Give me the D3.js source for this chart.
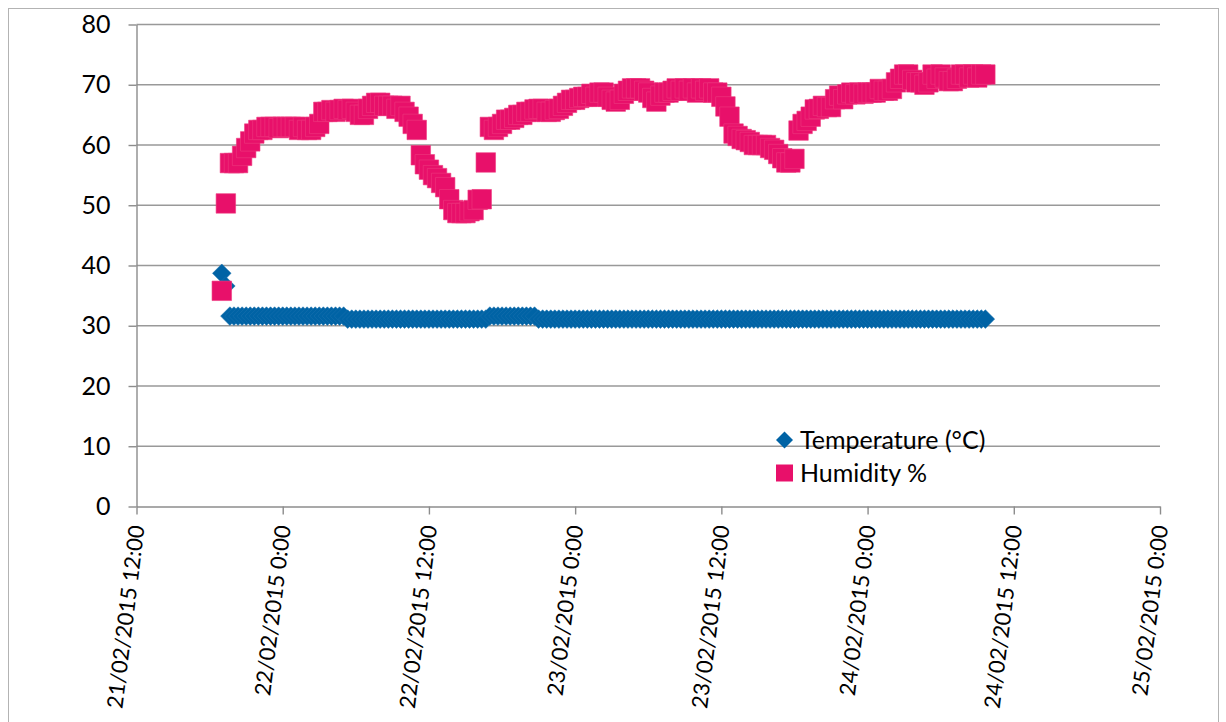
<!DOCTYPE html>
<html>
<head>
<meta charset="utf-8">
<script src="https://cdn.jsdelivr.net/npm/d3@7"></script>
<style>
  html, body { margin: 0; background: #ffffff; }
  svg { display: block; }
  text { font-family: Lato, "Open Sans", sans-serif; fill: #000; }
</style>
</head>
<body>
<svg id="chart" width="1226" height="722"></svg>
<script>
// Logger readings: one sample every 20 minutes, starting 21/02/2015 19:00
const firstSample = new Date(2015, 1, 21, 19, 0);
const sampleMinutes = 20;

const temperature = [
  38.7, 36.6, 31.6, 31.6, 31.6, 31.6, 31.6, 31.6, 31.6, 31.6,
  31.6, 31.6, 31.6, 31.6, 31.6, 31.6, 31.6, 31.6, 31.6, 31.6,
  31.6, 31.6, 31.6, 31.6, 31.6, 31.6, 31.6, 31.6, 31.6, 31.6,
  31.6, 31.1, 31.1, 31.1, 31.1, 31.1, 31.1, 31.1, 31.1, 31.1,
  31.1, 31.1, 31.1, 31.1, 31.1, 31.1, 31.1, 31.1, 31.1, 31.1,
  31.1, 31.1, 31.1, 31.1, 31.1, 31.1, 31.1, 31.1, 31.1, 31.1,
  31.1, 31.1, 31.1, 31.1, 31.1, 31.1, 31.6, 31.6, 31.6, 31.6,
  31.6, 31.6, 31.6, 31.6, 31.6, 31.6, 31.6, 31.6, 31.1, 31.1,
  31.1, 31.1, 31.1, 31.1, 31.1, 31.1, 31.1, 31.1, 31.1, 31.1,
  31.1, 31.1, 31.1, 31.1, 31.1, 31.1, 31.1, 31.1, 31.1, 31.1,
  31.1, 31.1, 31.1, 31.1, 31.1, 31.1, 31.1, 31.1, 31.1, 31.1,
  31.1, 31.1, 31.1, 31.1, 31.1, 31.1, 31.1, 31.1, 31.1, 31.1,
  31.1, 31.1, 31.1, 31.1, 31.1, 31.1, 31.1, 31.1, 31.1, 31.1,
  31.1, 31.1, 31.1, 31.1, 31.1, 31.1, 31.1, 31.1, 31.1, 31.1,
  31.1, 31.1, 31.1, 31.1, 31.1, 31.1, 31.1, 31.1, 31.1, 31.1,
  31.1, 31.1, 31.1, 31.1, 31.1, 31.1, 31.1, 31.1, 31.1, 31.1,
  31.1, 31.1, 31.1, 31.1, 31.1, 31.1, 31.1, 31.1, 31.1, 31.1,
  31.1, 31.1, 31.1, 31.1, 31.1, 31.1, 31.1, 31.1, 31.1, 31.1,
  31.1, 31.1, 31.1, 31.1, 31.1, 31.1, 31.1, 31.1, 31.1
];

const humidity = [
  35.8, 50.3, 57.0, 57.0, 57.0, 58.2, 59.5, 60.6, 61.9, 62.5,
  62.5, 63.0, 63.0, 63.0, 62.8, 63.0, 63.0, 63.0, 63.0, 62.5,
  63.0, 62.5, 62.5, 63.0, 63.5, 65.5, 65.5, 65.8, 65.5, 65.8,
  66.0, 65.8, 66.0, 65.5, 65.0, 65.0, 66.0, 66.5, 67.0, 67.0,
  66.5, 66.5, 66.5, 66.0, 66.5, 65.5, 64.7, 63.5, 62.5, 58.3,
  56.8, 55.9, 55.0, 54.5, 53.7, 53.0, 51.0, 49.2, 48.7, 48.7,
  48.7, 49.0, 49.2, 50.9, 51.0, 57.1, 63.0, 62.5, 63.0, 63.5,
  64.2, 64.2, 64.5, 65.0, 65.0, 65.5, 65.5, 65.9, 66.0, 66.0,
  65.5, 65.5, 65.8, 66.0, 66.5, 67.0, 67.5, 67.5, 67.8, 68.0,
  68.0, 68.5, 68.0, 68.7, 68.7, 68.0, 67.5, 67.2, 67.5, 68.5,
  69.0, 69.4, 69.4, 69.4, 69.0, 68.7, 67.8, 67.2, 68.2, 68.7,
  68.7, 69.0, 69.4, 69.0, 69.4, 69.0, 69.4, 68.7, 69.4, 69.0,
  69.4, 68.7, 68.7, 68.0, 66.4, 64.7, 61.9, 61.5, 61.0, 60.8,
  60.5, 60.0, 60.0, 60.0, 60.0, 59.5, 59.2, 58.5, 57.8, 57.1,
  57.1, 57.7, 62.4, 63.5, 64.0, 64.7, 65.9, 66.0, 66.5, 66.3,
  66.3, 67.6, 68.2, 67.6, 68.4, 68.7, 68.4, 68.7, 68.5, 68.7,
  68.7, 68.7, 69.3, 69.0, 69.0, 69.3, 70.4, 71.0, 71.7, 71.7,
  70.8, 70.4, 70.4, 70.0, 70.4, 71.7, 71.0, 71.7, 71.2, 70.6,
  70.6, 71.0, 71.7, 71.7, 71.2, 71.7, 71.2, 71.7, 71.7
];

const seriesNames = ["Temperature (°C)", "Humidity %"];
const yTickValues = [0, 10, 20, 30, 40, 50, 60, 70, 80];
const xTickTimes = [
  new Date(2015, 1, 21, 12), new Date(2015, 1, 22, 0),
  new Date(2015, 1, 22, 12), new Date(2015, 1, 23, 0),
  new Date(2015, 1, 23, 12), new Date(2015, 1, 24, 0),
  new Date(2015, 1, 24, 12), new Date(2015, 1, 25, 0)
];

const colors = { temp: "#0063a5", hum: "#e8106a" };
const fontSize = "25px";
const dateFontSize = "22px";

const sampleTime = i => new Date(firstSample.getTime() + i * sampleMinutes * 60000);
const tempPoints = temperature.map((v, i) => ({ t: sampleTime(i), v }));
const humPoints = humidity.map((v, i) => ({ t: sampleTime(i), v }));

const svg = d3.select("#chart");

const x = d3.scaleTime()
  .domain([xTickTimes[0], xTickTimes[xTickTimes.length - 1]])
  .range([136.5, 1160]);
const y = d3.scaleLinear().domain([0, 80]).range([506.5, 24.5]);

// outer chart frame
svg.append("rect")
  .attr("x", 8.5).attr("y", 8.5)
  .attr("width", 1210).attr("height", 740)
  .attr("fill", "none").attr("stroke", "#b3b3b3").attr("stroke-width", 1);

// horizontal gridlines
svg.append("g").selectAll("line")
  .data(yTickValues.filter(d => d > 0))
  .join("line")
  .attr("x1", x.range()[0]).attr("x2", x.range()[1])
  .attr("y1", d => y(d)).attr("y2", d => y(d))
  .attr("stroke", "#999999").attr("stroke-width", 1.4);

// y axis
const yAxis = svg.append("g")
  .attr("transform", `translate(${x.range()[0]},0)`)
  .call(d3.axisLeft(y).tickValues(yTickValues).tickSize(8).tickPadding(18).tickSizeOuter(0));
yAxis.select(".domain").attr("stroke", "#8c8c8c").attr("stroke-width", 1.4);
yAxis.selectAll(".tick line").attr("stroke", "#8c8c8c").attr("stroke-width", 1.4);
yAxis.selectAll(".tick text")
  .style("font-family", "Lato, sans-serif").style("font-size", fontSize).attr("fill", "#000");

// x axis
const xAxis = svg.append("g")
  .attr("transform", `translate(0,${y(0)})`)
  .call(d3.axisBottom(x).tickValues(xTickTimes).tickSize(8).tickSizeOuter(0)
    .tickFormat(d3.timeFormat("%d/%m/%Y %-H:%M")));
xAxis.select(".domain").attr("stroke", "#8c8c8c").attr("stroke-width", 1.4);
xAxis.selectAll(".tick line").attr("stroke", "#8c8c8c").attr("stroke-width", 1.4);
xAxis.selectAll(".tick text")
  .style("font-family", "Lato, sans-serif").style("font-size", dateFontSize).attr("fill", "#000")
  .attr("text-anchor", "end")
  .attr("dy", "0.35em")
  .attr("y", 0)
  .attr("transform", "translate(0,19) rotate(-83)");

// markers: temperature diamonds under humidity squares
const diamondSide = 13.2;
const diamond = d3.symbol(d3.symbolSquare, diamondSide * diamondSide);
const squareSide = 19.5;
const square = d3.symbol(d3.symbolSquare, squareSide * squareSide);

svg.append("g").selectAll("path")
  .data(tempPoints)
  .join("path")
  .attr("d", diamond)
  .attr("transform", d => `translate(${x(d.t)},${y(d.v)}) rotate(45)`)
  .attr("fill", colors.temp)
  .attr("stroke", "#1a72b0").attr("stroke-width", 0.5);

svg.append("g").selectAll("path")
  .data(humPoints)
  .join("path")
  .attr("d", square)
  .attr("transform", d => `translate(${x(d.t)},${y(d.v)})`)
  .attr("fill", colors.hum)
  .attr("stroke", "#ee3a80").attr("stroke-width", 0.6);

// legend
const legend = svg.append("g");
const legendItems = [
  { name: seriesNames[0], color: colors.temp, shape: "diamond", cy: 440 },
  { name: seriesNames[1], color: colors.hum, shape: "square", cy: 473 }
];
legendItems.forEach(item => {
  const sym = item.shape === "diamond"
    ? d3.symbol(d3.symbolSquare, 12 * 12)
    : d3.symbol(d3.symbolSquare, 17 * 17);
  legend.append("path")
    .attr("d", sym)
    .attr("transform", `translate(784.5,${item.cy})` + (item.shape === "diamond" ? " rotate(45)" : ""))
    .attr("fill", item.color);
  legend.append("text")
    .attr("x", 800).attr("y", item.cy + 8.5)
    .style("font-size", fontSize)
    .text(item.name);
});
</script>
</body>
</html>
